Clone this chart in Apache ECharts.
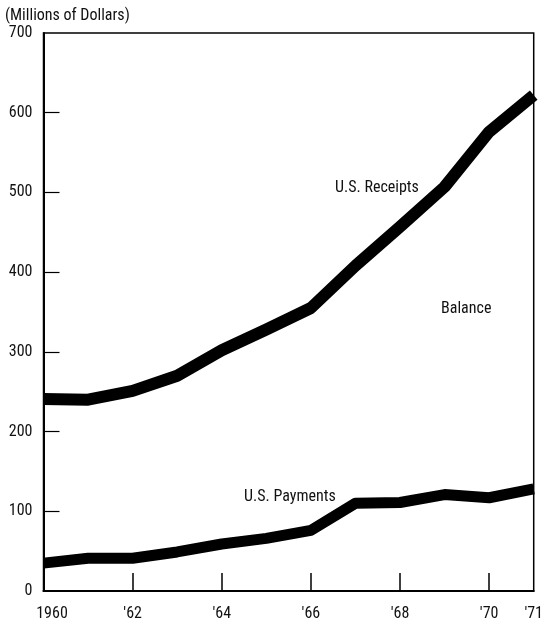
<!DOCTYPE html>
<html>
<head>
<meta charset="utf-8">
<script src="https://cdn.jsdelivr.net/npm/echarts@6/dist/echarts.min.js"></script>
<style>
html,body{margin:0;padding:0;background:#fff;}
#chart{width:546px;height:623px;}
</style>
</head>
<body>
<div id="chart"></div>
<script>
const years = [1960,1961,1962,1963,1964,1965,1966,1967,1968,1969,1970,1971];
const receipts = [241,240,251,270,302,328,355,408,457,507,576,622];
const payments = [35,41,41,49,59,66,76,110,111,121,117,128];
const xLabelYears = [1960,1962,1964,1966,1968,1970,1971];
const xTickYears = [1962,1964,1966,1968,1970];
const yTickValues = [100,200,300,400,500,600];

const FONT = '"Roboto Condensed","DejaVu Sans Condensed",sans-serif';
const chart = echarts.init(document.getElementById('chart'), null, {renderer:'canvas'});

function xLabel(v){
  return v === 1960 ? '{first|1960}' : "'" + String(v).slice(2);
}

chart.setOption({
  animation:false,
  backgroundColor:'#fff',
  grid:{left:43.5,right:10.5,top:33,bottom:32,show:true,borderColor:'#000',borderWidth:1.5,backgroundColor:'transparent'},
  xAxis:{
    type:'value',min:1960,max:1971,interval:1,
    axisLine:{show:true,lineStyle:{color:'#000',width:2}},
    axisTick:{show:true,inside:true,length:18,customValues:xTickYears,lineStyle:{color:'#000',width:1.5}},
    axisLabel:{customValues:xLabelYears,formatter:xLabel,color:'#111',fontFamily:FONT,fontSize:16,margin:15,
      rich:{first:{fontFamily:FONT,fontSize:16,color:'#111',padding:[0,0,0,17]}}},
    splitLine:{show:false}
  },
  yAxis:{
    type:'value',min:0,max:700,interval:100,
    axisLine:{show:true,lineStyle:{color:'#000',width:2}},
    axisTick:{show:true,inside:true,length:16,customValues:yTickValues,lineStyle:{color:'#000',width:1.2}},
    axisLabel:{color:'#111',fontFamily:FONT,fontSize:16,margin:11},
    splitLine:{show:false}
  },
  series:[
    {type:'line',name:'U.S. Receipts',data:years.map((y,i)=>[y,receipts[i]]),showSymbol:false,
     lineStyle:{color:'#000',width:12,join:'round'}},
    {type:'line',name:'U.S. Payments',data:years.map((y,i)=>[y,payments[i]]),showSymbol:false,
     lineStyle:{color:'#000',width:11,join:'round'}}
  ],
  graphic:[
    {type:'text',x:5,y:16,style:{text:'(Millions of Dollars)',font:'16px '+FONT,fill:'#111',verticalAlign:'middle'}},
    {type:'text',x:335,y:188,style:{text:'U.S. Receipts',font:'16px '+FONT,fill:'#111',verticalAlign:'middle'}},
    {type:'text',x:441,y:309,style:{text:'Balance',font:'16px '+FONT,fill:'#111',verticalAlign:'middle'}},
    {type:'text',x:244,y:497,style:{text:'U.S. Payments',font:'16px '+FONT,fill:'#111',verticalAlign:'middle'}}
  ]
});
</script>
</body>
</html>
